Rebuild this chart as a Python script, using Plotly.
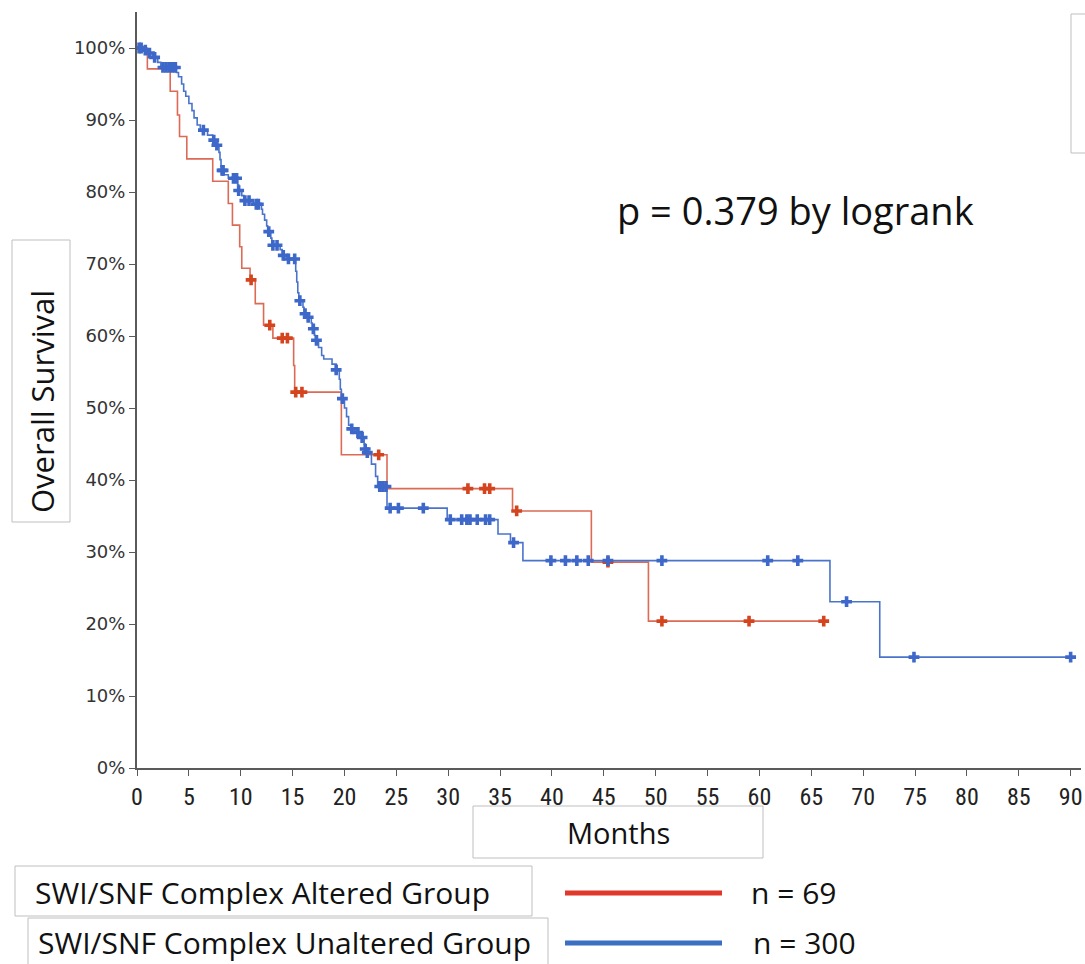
import plotly.graph_objects as go

# ---------------- data ----------------
red_event_months = [1.0, 3.2, 3.9, 4.1, 4.8, 7.3, 8.8, 9.2, 9.9, 10.1, 10.9, 11.4, 12.2, 13.1,
                    15.1, 15.2, 19.7, 24.1, 36.2, 43.8, 49.3]
red_event_surv = [97.1, 94.0, 90.7, 87.7, 84.6, 81.5, 78.4, 75.4, 72.4, 69.4, 67.8, 64.5, 61.5, 59.7,
                  55.9, 52.2, 43.5, 38.8, 35.7, 28.6, 20.4]
red_censor_months = [11.0, 12.8, 14.0, 14.5, 15.3, 15.9, 23.3, 31.9, 33.5, 34.0, 36.6, 45.4,
                     50.6, 59.0, 66.2]
red_end_month = 66.2

blue_event_months = [0.6, 1.0, 1.5, 2.0, 2.3, 3.8, 4.0, 4.3, 4.5, 4.7, 5.0, 5.3, 5.5, 5.8, 6.1,
                     6.8, 7.3, 7.6, 7.9, 8.0, 8.1, 8.2, 8.4, 8.8, 9.7, 9.8, 10.1, 10.3, 11.2,
                     12.0, 12.1, 12.3, 12.5, 12.6, 12.9, 13.0, 13.8, 14.0, 14.5, 15.3, 15.4,
                     15.5, 15.6, 16.0, 16.1, 16.4, 16.8, 16.9, 17.1, 17.2, 17.5, 17.8, 18.0,
                     18.8, 19.2, 19.5, 19.6, 19.7, 20.0, 20.2, 20.4, 20.6, 21.0, 21.5, 21.9,
                     22.0, 22.2, 22.6, 23.0, 23.2, 24.1, 29.9, 34.8, 36.0, 37.2, 66.8, 71.6]
blue_event_surv = [99.7, 99.3, 98.7, 98.0, 97.3, 96.6, 96.0, 95.0, 94.0, 93.3, 92.3, 91.3, 90.3,
                   89.3, 88.6, 87.9, 87.2, 86.5, 85.5, 84.5, 83.5, 83.0, 82.4, 81.9, 81.0, 80.2,
                   79.5, 78.8, 78.3, 77.6, 76.9, 76.1, 75.3, 74.5, 73.6, 72.6, 72.0, 71.2, 70.7,
                   69.0, 67.5, 66.0, 64.9, 64.0, 63.1, 62.6, 61.8, 61.0, 60.1, 59.4, 58.4, 57.3,
                   56.8, 56.1, 55.3, 54.0, 52.6, 51.3, 50.0, 48.8, 47.6, 47.1, 46.6, 45.9, 45.0,
                   44.3, 43.8, 42.2, 40.5, 39.1, 36.1, 34.5, 32.5, 31.3, 28.8, 23.1, 15.4]
blue_censor_months = [0.2, 0.4, 0.8, 1.2, 1.7, 2.5, 2.8, 3.1, 3.4, 3.7, 6.4, 7.4, 7.7, 8.2, 8.3,
                      9.3, 9.6, 9.8, 10.4, 10.8, 11.5, 11.7, 12.7, 13.1, 13.5, 14.1, 14.6, 15.2,
                      15.7, 16.2, 16.5, 17.0, 17.3, 19.2, 19.8, 20.7, 21.3, 21.7, 22.0, 22.2,
                      23.4, 23.7, 24.0, 24.4, 25.2, 27.6, 30.2, 31.3, 31.8, 32.1, 32.8, 33.6,
                      34.0, 36.3, 39.9, 41.3, 42.4, 43.5, 45.4, 50.6, 60.8, 63.7, 68.4, 74.9, 90.0]
blue_end_month = 90.0

x_ticks = list(range(0, 91, 5))
y_ticks = list(range(0, 101, 10))

group_names = ["SWI/SNF Complex Altered Group", "SWI/SNF Complex Unaltered Group"]
group_counts = ["n = 69", "n = 300"]
p_text = "p = 0.379 by logrank"

RED_LINE = "#dc6a55"
RED_MARK = "#d4441f"
BLUE_LINE = "#4a74cc"
BLUE_MARK = "#3d68c9"


def step_xy(times, surv, end):
    xs = [0.0] + list(times) + [end]
    ys = [100.0] + list(surv) + [surv[-1]]
    return xs, ys


def surv_at(t, times, surv):
    v = 100.0
    for tt, s in zip(times, surv):
        if tt <= t:
            v = s
        else:
            break
    return v


fig = go.Figure()

for times, surv, end, cens, lc, mc in [
    (red_event_months, red_event_surv, red_end_month, red_censor_months, RED_LINE, RED_MARK),
    (blue_event_months, blue_event_surv, blue_end_month, blue_censor_months, BLUE_LINE, BLUE_MARK),
]:
    xs, ys = step_xy(times, surv, end)
    fig.add_trace(go.Scatter(x=xs, y=ys, mode="lines", line=dict(color=lc, width=1.6, shape="hv"),
                             showlegend=False, hoverinfo="skip"))
    fig.add_trace(go.Scatter(x=cens, y=[surv_at(c, times, surv) for c in cens], mode="markers",
                             marker=dict(symbol="cross", size=9, color=mc, line=dict(width=0)),
                             showlegend=False))

# geometry (screen pixels; page body margin is removed by the post script)
W, H = 1085, 964
L, R_ = 137, 1081
T, B = 12, 768
XMAX = 91.0
YMAX = 105.0


def px_x(px):
    return (px - L) / (R_ - L)


def px_y(py):
    return (B - py) / (B - T)


fig.update_layout(
    width=W, height=H,
    margin=dict(l=L, r=W - R_, t=T, b=H - B),
    plot_bgcolor="white", paper_bgcolor="white",
    showlegend=False,
    xaxis=dict(range=[0, XMAX], tickvals=x_ticks, ticktext=[str(v) for v in x_ticks],
               showgrid=False, zeroline=False, showline=True, linecolor="#5a5a5a", linewidth=2,
               ticks="outside", ticklen=6, tickcolor="#5a5a5a", tickwidth=1,
               tickfont=dict(family="Liberation Sans Narrow, Roboto Condensed, DejaVu Sans Condensed, sans-serif",
                             size=24, color="#222")),
    yaxis=dict(range=[0, YMAX], tickvals=y_ticks, ticktext=[f"{v}%" for v in y_ticks],
               showgrid=False, zeroline=False, showline=True, linecolor="#5a5a5a", linewidth=2,
               ticks="outside", ticklen=6, tickcolor="#5a5a5a", tickwidth=1,
               tickfont=dict(family="DejaVu Sans, sans-serif", size=18, color="#333")),
)

BOX = dict(color="#bfbfbf", width=1)
shapes = []


def rect(x0, y0, x1, y1):
    shapes.append(dict(type="rect", xref="paper", yref="paper",
                       x0=px_x(x0), x1=px_x(x1), y0=px_y(y1), y1=px_y(y0), line=BOX,
                       fillcolor="rgba(0,0,0,0)", layer="above"))


rect(12, 240, 70, 522)      # y title box
rect(473, 806, 763, 858)    # x title box
rect(15, 866, 532, 916)     # legend box 1
rect(28, 918, 548, 975)     # legend box 2
rect(1071, 14, 1100, 153)   # partial box top-right

# legend swatches
for py, col in [(893, "#e0392b"), (943, "#3a6fc2")]:
    shapes.append(dict(type="line", xref="paper", yref="paper", x0=px_x(565), x1=px_x(722),
                       y0=px_y(py), y1=px_y(py), line=dict(color=col, width=5)))
fig.update_layout(shapes=shapes)

TXT = "Open Sans, Lato, Noto Sans, sans-serif"
ann = [
    dict(text="Overall Survival", x=px_x(42), y=px_y(402), textangle=-90, font=dict(size=31)),
    dict(text="Months", x=px_x(618), y=px_y(832), font=dict(size=29)),
    dict(text=p_text, x=px_x(795), y=px_y(210), font=dict(size=38)),
    dict(text=group_names[0], x=px_x(262), y=px_y(892), font=dict(size=30)),
    dict(text=group_names[1], x=px_x(284), y=px_y(942), font=dict(size=30)),
    dict(text=group_counts[0], x=px_x(793), y=px_y(892), font=dict(size=30)),
    dict(text=group_counts[1], x=px_x(804), y=px_y(942), font=dict(size=30)),
]
for a in ann:
    a.update(xref="paper", yref="paper", showarrow=False, xanchor="center", yanchor="middle")
    a["font"].update(family=TXT, color="#111")
fig.update_layout(annotations=ann)

fig.write_html("out.html", config={"displayModeBar": False},
               post_script="document.body.style.margin='0';document.body.style.overflow='hidden';")
